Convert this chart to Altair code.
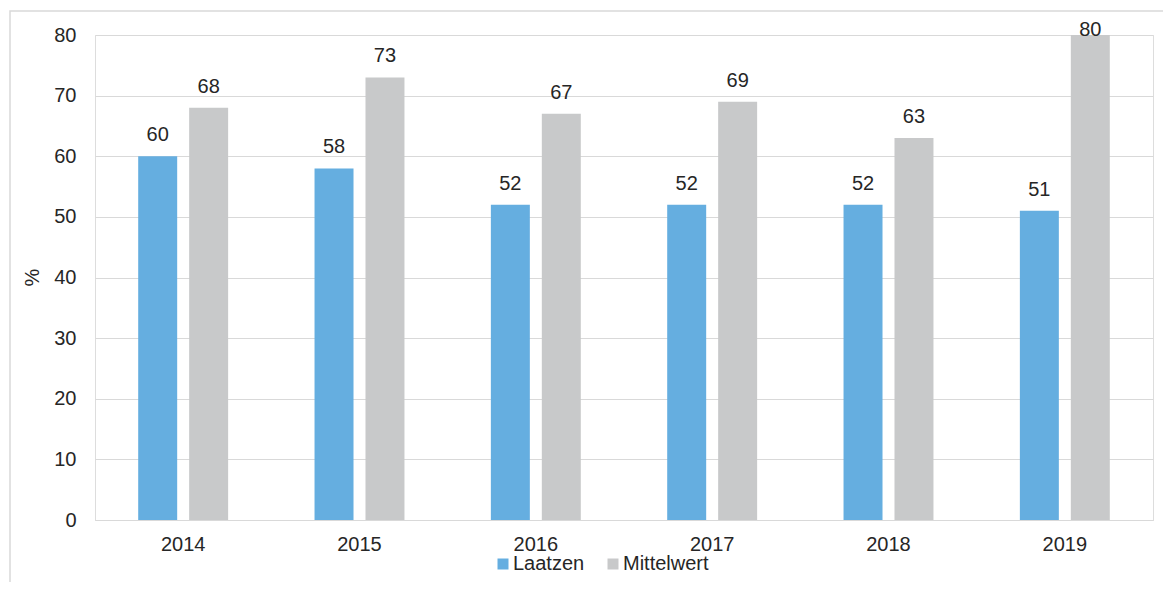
import altair as alt
import pandas as pd

years = ["2014", "2015", "2016", "2017", "2018", "2019"]
series = ["Laatzen", "Mittelwert"]
laatzen = [60, 58, 52, 52, 52, 51]
mittelwert = [68, 73, 67, 69, 63, 80]
colors = ["#65AEE0", "#C8C9CA"]
y_ticks = [0, 10, 20, 30, 40, 50, 60, 70, 80]

rows = []
for i, yr in enumerate(years):
    rows.append({"Jahr": yr, "Reihe": series[0], "Wert": laatzen[i]})
    rows.append({"Jahr": yr, "Reihe": series[1], "Wert": mittelwert[i]})
df = pd.DataFrame(rows)

FONT = "Liberation Sans"
TXT = "#262626"
GRID = "#D9D9D9"

x_enc = alt.X("Jahr:N", sort=years,
              scale=alt.Scale(paddingInner=0.49, paddingOuter=0.245),
              axis=alt.Axis(title=None, labelAngle=0, ticks=False, domainColor=GRID,
                            labelPadding=14, labelFontSize=20, labelColor=TXT, labelFont=FONT))
xo_enc = alt.XOffset("Reihe:N", sort=series,
                     scale=alt.Scale(paddingInner=0.235, paddingOuter=0))
y_enc = alt.Y("Wert:Q", scale=alt.Scale(domain=[0, 80], nice=False),
              axis=alt.Axis(title="%", values=y_ticks, domain=False, ticks=False,
                            gridColor=GRID, labelPadding=19, labelFontSize=20,
                            labelColor=TXT, labelFont=FONT, titleFont=FONT,
                            titleFontSize=20, titleFontWeight="normal", titleColor=TXT,
                            titleX=-63, titleY=242, titleAngle=-90, titleAlign="center",
                            titleBaseline="middle"))

bars = alt.Chart(df).mark_bar().encode(
    x=x_enc, xOffset=xo_enc, y=y_enc,
    color=alt.Color("Reihe:N", sort=series,
                    scale=alt.Scale(domain=series, range=colors),
                    legend=alt.Legend(title=None, orient="none", legendX=398, legendY=519,
                                      direction="horizontal", symbolType="square",
                                      symbolSize=121, symbolStrokeWidth=0,
                                      labelFontSize=20, labelFont=FONT, labelColor=TXT,
                                      labelOffset=0, columnPadding=18)),
)

labels = alt.Chart(df).transform_calculate(
    LabelPos="min(datum.Wert, 77.4)"
).mark_text(baseline="alphabetic", dy=-15, fontSize=20, font=FONT, color=TXT).encode(
    x=alt.X("Jahr:N", sort=years), xOffset=alt.XOffset("Reihe:N", sort=series),
    y=alt.Y("LabelPos:Q"), text="Wert:Q",
)

frame = alt.Chart(pd.DataFrame({"f": [0]})).mark_rect(
    fill=None, stroke=GRID, strokeWidth=1.5).encode(
    x=alt.value(-85), x2=alt.value(1200), y=alt.value(-24), y2=alt.value(700))

chart = alt.layer(frame, bars, labels).properties(
    width=1058, height=485,
    autosize=alt.AutoSizeParams(type="none"),
    padding={"left": 87, "top": 27, "right": 10, "bottom": 62},
).configure_view(stroke=None).configure(background="white")

chart.save("out.html", embed_options={"renderer": "svg", "actions": False})
